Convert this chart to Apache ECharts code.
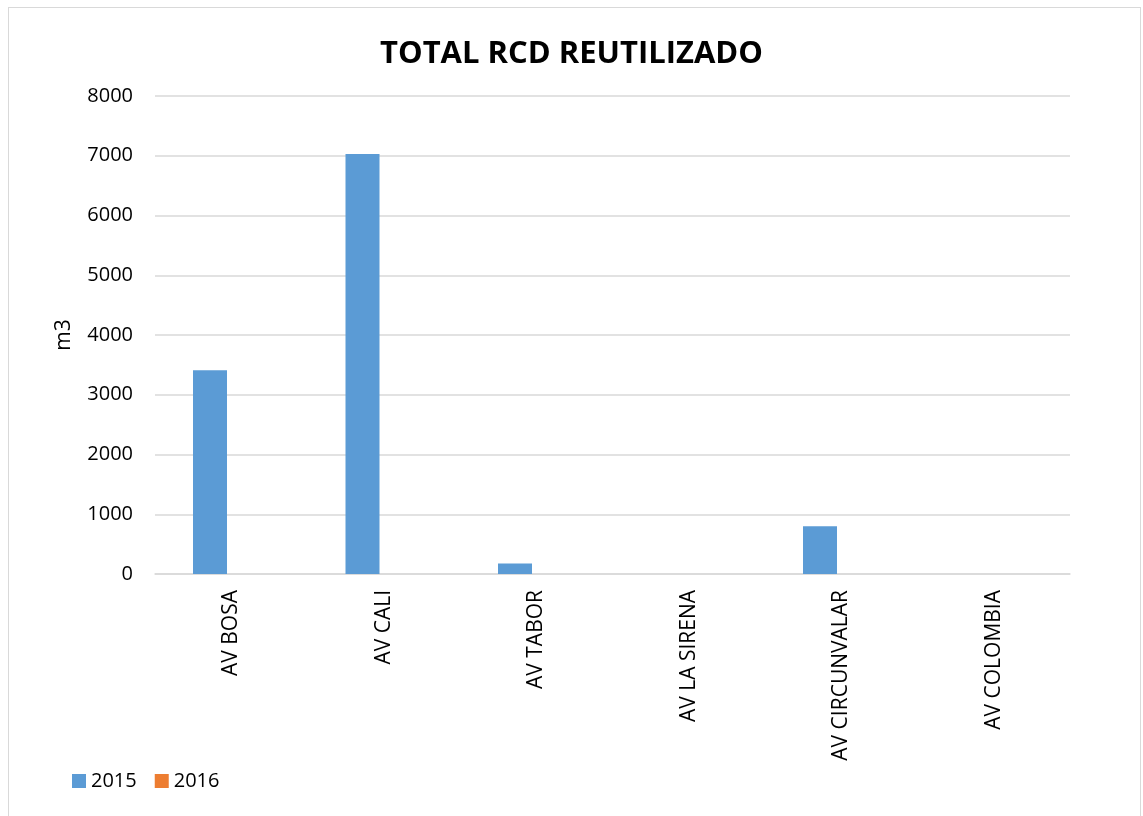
<!DOCTYPE html>
<html><head><meta charset="utf-8">
<script src="https://cdn.jsdelivr.net/npm/echarts@6/dist/echarts.min.js"></script>
<style>html,body{margin:0;padding:0;background:#fff}#c{width:1143px;height:816px}
#frame{position:absolute;left:8px;top:7px;width:1133px;height:815px;border:1.5px solid #d9d9d9;box-sizing:border-box;pointer-events:none}</style>
</head><body><div id="c"></div><div id="frame"></div>
<script>
const categories = ['AV BOSA','AV CALI','AV TABOR','AV LA SIRENA','AV CIRCUNVALAR','AV COLOMBIA'];
const values2015 = [3410, 7030, 175, 0, 800, 0];
const values2016 = [0, 0, 0, 0, 0, 0];
const seriesNames = ['2015','2016'];
const yTicks = [0,1000,2000,3000,4000,5000,6000,7000,8000];
const F = '"Open Sans", sans-serif';
const chart = echarts.init(document.getElementById('c'));
chart.setOption({
  animation:false,
  title:{text:'TOTAL RCD REUTILIZADO',left:'center',top:34,textStyle:{fontFamily:F,fontSize:31,fontWeight:'bold',color:'#000'}},
  legend:{left:67,top:766,itemWidth:14,itemHeight:14,itemGap:18,icon:'rect',textStyle:{fontFamily:F,fontSize:20,color:'#000'},data:seriesNames},
  grid:{left:155,right:73,top:96,bottom:242,containLabel:false},
  xAxis:{type:'category',data:categories,axisTick:{show:false},axisLine:{lineStyle:{color:'#d9d9d9',width:1.5}},
    axisLabel:{rotate:90,fontFamily:F,fontSize:21,color:'#000',margin:16}},
  yAxis:{type:'value',min:yTicks[0],max:yTicks[yTicks.length-1],interval:1000,name:'m3',nameLocation:'middle',nameGap:80,
    nameTextStyle:{fontFamily:F,fontSize:21,color:'#000'},
    axisLine:{show:false},axisTick:{show:false},splitLine:{lineStyle:{color:'#d9d9d9',width:1.5}},
    axisLabel:{fontFamily:F,fontSize:20,color:'#000',margin:22,formatter:v=>String(v)}},
  series:[
    {name:seriesNames[0],type:'bar',data:values2015,barWidth:34,barGap:'25%',itemStyle:{color:'#5b9bd5'}},
    {name:seriesNames[1],type:'bar',data:values2016,barWidth:34,itemStyle:{color:'#ed7d31'}}
  ]
});
</script></body></html>
